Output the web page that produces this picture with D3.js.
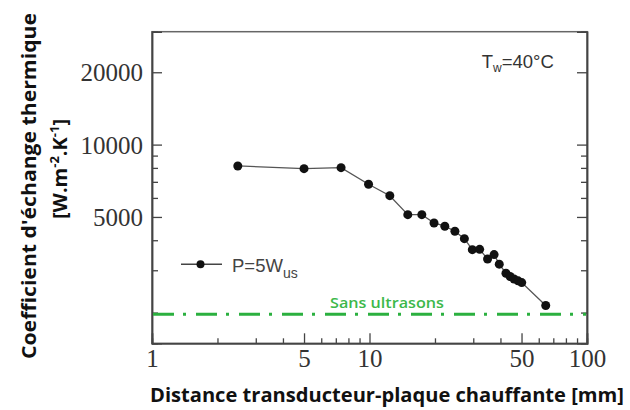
<!DOCTYPE html>
<html><head><meta charset="utf-8">
<script src="https://cdn.jsdelivr.net/npm/d3@7"></script>
<style>body{margin:0;background:#fff}svg{display:block}</style>
</head><body>
<svg id="c" width="630" height="410"></svg>
<script>
const distances = [2.48, 5.0, 7.4, 9.9, 12.4, 15.0, 17.4, 19.8, 22.2, 24.7, 27.3, 29.7, 32.1, 34.9, 37.4, 39.5, 42.4, 44.3, 46.2, 48.2, 50.1, 64.6];
const hValues = [8150, 7940, 8020, 6840, 6130, 5110, 5110, 4720, 4575, 4360, 4060, 3655, 3665, 3340, 3485, 3180, 2915, 2825, 2760, 2710, 2665, 2140];
const baseline = 1970;
const xTickLabels = [1, 5, 10, 50, 100];
const xMinorTicks = [2, 3, 4, 6, 7, 8, 9, 20, 30, 40, 60, 70, 80, 90];
const yTickLabels = [5000, 10000, 20000];
const yMinorTicks = [2000, 3000, 4000, 6000, 7000, 8000, 9000];

const svg = d3.select("#c");
const L = 152, R = 587, T = 31.7, B = 343.3;
const x = d3.scaleLog().domain([1, 100]).range([L, R]);
const y = d3.scaleLog().domain([1490, 29500]).range([B, T]);
const axisCol = "#444";

// frame
svg.append("rect").attr("x", L).attr("y", T).attr("width", R - L).attr("height", B - T)
  .attr("fill", "none").attr("stroke", "#666").attr("stroke-width", 1.5);

// bottom axis
const gx = svg.append("g").attr("transform", `translate(0,${B})`)
  .call(d3.axisBottom(x).tickValues(xTickLabels).tickSize(-10).tickFormat(d3.format("d")));
const gxm = svg.append("g").attr("transform", `translate(0,${B})`)
  .call(d3.axisBottom(x).tickValues(xMinorTicks).tickSize(-5).tickFormat(""));
// left axis
const gy = svg.append("g").attr("transform", `translate(${L},0)`)
  .call(d3.axisLeft(y).tickValues(yTickLabels).tickSize(-10).tickFormat(d3.format("d")));
const gym = svg.append("g").attr("transform", `translate(${L},0)`)
  .call(d3.axisLeft(y).tickValues(yMinorTicks).tickSize(-6).tickFormat(""));
// right axis ticks
const gr = svg.append("g").attr("transform", `translate(${R},0)`)
  .call(d3.axisRight(y).tickValues(yTickLabels).tickSize(-10).tickFormat(""));
const grm = svg.append("g").attr("transform", `translate(${R},0)`)
  .call(d3.axisRight(y).tickValues(yMinorTicks).tickSize(-6).tickFormat(""));

[gx, gxm, gy, gym, gr, grm].forEach(g => {
  g.select(".domain").attr("stroke", axisCol).attr("stroke-width", 1.5);
  g.selectAll(".tick line").attr("stroke", axisCol).attr("stroke-width", 1.3);
});
gx.selectAll(".tick text").attr("y", 6).attr("dy", "0.71em")
  .attr("font-family", "Liberation Serif, serif").attr("font-size", 25).attr("fill", "#333");
gy.selectAll(".tick text").attr("x", -9).attr("dy", "0.34em")
  .attr("font-family", "Liberation Serif, serif").attr("font-size", 25).attr("fill", "#333");

// baseline "Sans ultrasons"
svg.append("line").attr("x1", L + 1).attr("x2", R - 1).attr("y1", y(baseline)).attr("y2", y(baseline))
  .attr("stroke", "#2bb03f").attr("stroke-width", 3).attr("stroke-dasharray", "21,9,3,10");
svg.append("text").attr("x", 387).attr("y", 308.3).attr("text-anchor", "middle")
  .attr("font-family", "Open Sans, sans-serif").attr("font-weight", 600).attr("font-size", 14.5)
  .attr("fill", "#3cb84a").attr("textLength", 114).attr("lengthAdjust", "spacingAndGlyphs")
  .text("Sans ultrasons");

// data line
const line = d3.line().x((d, i) => x(distances[i])).y(d => y(d));
svg.append("path").datum(hValues).attr("d", line).attr("fill", "none")
  .attr("stroke", "#555").attr("stroke-width", 1.3);
svg.selectAll("circle.pt").data(hValues).join("circle").attr("class", "pt")
  .attr("cx", (d, i) => x(distances[i])).attr("cy", d => y(d)).attr("r", 4.5).attr("fill", "#111");

// legend
svg.append("line").attr("x1", 181).attr("x2", 222).attr("y1", 264.3).attr("y2", 264.3)
  .attr("stroke", "#444").attr("stroke-width", 1.5);
svg.append("circle").attr("cx", 200.5).attr("cy", 264.3).attr("r", 4).attr("fill", "#111");
const lt = svg.append("text").attr("x", 232).attr("y", 272.3)
  .attr("font-family", "Liberation Sans, Arial, sans-serif").attr("font-size", 18.5).attr("fill", "#444");
lt.append("tspan").text("P=5W");
lt.append("tspan").attr("dy", 6).attr("font-size", 14).text("us");

// Tw label
const tw = svg.append("text").attr("x", 481.7).attr("y", 68.3)
  .attr("font-family", "Liberation Sans, Arial, sans-serif").attr("font-size", 18.5).attr("fill", "#333");
tw.append("tspan").text("T");
tw.append("tspan").attr("dy", 4).attr("font-size", 12).text("w");
tw.append("tspan").attr("dy", -4).text("=40°C");

// axis titles
svg.append("text").attr("x", 387).attr("y", 402).attr("text-anchor", "middle")
  .attr("font-family", "Open Sans, sans-serif").attr("font-weight", 700).attr("font-size", 20)
  .attr("fill", "#111").attr("textLength", 474).attr("lengthAdjust", "spacingAndGlyphs")
  .text("Distance transducteur-plaque chauffante [mm]");

svg.append("text").attr("transform", "translate(36,186) rotate(-90)").attr("text-anchor", "middle")
  .attr("font-family", "Open Sans, sans-serif").attr("font-weight", 700).attr("font-size", 20)
  .attr("fill", "#111").attr("textLength", 346).attr("lengthAdjust", "spacingAndGlyphs")
  .text("Coefficient d'échange thermique");

const t2 = svg.append("text").attr("transform", "translate(67,169) rotate(-90)").attr("text-anchor", "middle")
  .attr("font-family", "Open Sans, sans-serif").attr("font-weight", 700).attr("font-size", 20)
  .attr("fill", "#111");
t2.append("tspan").text("[W.m");
t2.append("tspan").attr("dy", -8).attr("font-size", 13).text("-2");
t2.append("tspan").attr("dy", 8).text(".K");
t2.append("tspan").attr("dy", -8).attr("font-size", 13).text("-1");
t2.append("tspan").attr("dy", 8).text("]");
</script>
</body></html>
